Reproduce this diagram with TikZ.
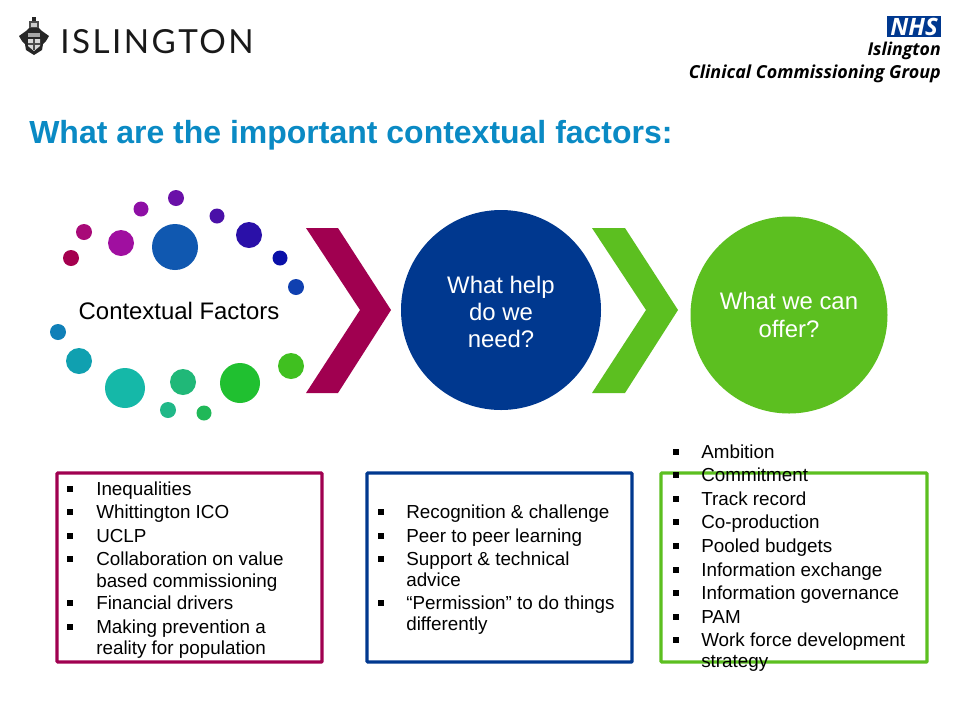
\documentclass[tikz,border=0pt]{standalone}
\usepackage{fontspec}
\setmainfont{Liberation Sans}
\newfontfamily\logofont[LetterSpace=7.5]{Lato}
\newfontfamily\nhsfont{Open Sans}
\usepackage{tikz}

\definecolor{titleblue}{HTML}{0A8AC4}
\definecolor{maroon}{HTML}{A00050}
\definecolor{nhsblue}{HTML}{00388F}
\definecolor{leafgreen}{HTML}{5CBF20}

\tikzset{
	itemtext/.style={anchor=base west,inner sep=0pt,font=\fontsize{13.4}{14}\selectfont},
	bulletmark/.style={fill=black,minimum size=4.4pt,inner sep=0pt},
	listbox/.style={line width=2.2pt,rounded corners=0.5pt,fill=white},
	bigcircle/.style={circle,inner sep=0pt,text=white,align=center,font=\fontsize{17}{19.5}\selectfont}
}

\begin{document}
\begin{tikzpicture}[x=0.25mm,y=-0.25mm]
	\useasboundingbox (0,0) rectangle (960,720);
	\fill[white] (0,0) rectangle (960,720);
	% crest
	\fill[black!85] (30,27) -- (38,27) -- (42,31) -- (49,36) -- (46,41) -- (43,44) -- (42,50) -- (34,55) -- (26,50) -- (25,44) -- (22,41) -- (19,36) -- (26,31) -- cycle;
	\fill[black!85] (32,17) rectangle (36,21);
	\fill[black!70] (29,21) rectangle (39,28);
	\fill[black!20] (31,23) rectangle (37,27);
	\fill[black!15] (28,39) -- (40,39) -- (40,46) -- (34,51) -- (28,46) -- cycle;
	\fill[black!70] (33,39) rectangle (35,50);
	\fill[black!70] (28,43) rectangle (40,45);
	\fill[black!35] (28,33) rectangle (40,37);
	\node[anchor=base west,inner sep=0pt,font=\logofont\fontsize{23.6}{24}\selectfont,text=black!90] (islington) at (60,53) {ISLINGTON};
	% nhs logo
	\node[fill=nhsblue,text=white,minimum width=54*0.25mm,minimum height=21*0.25mm,inner sep=0pt,font=\nhsfont\bfseries\itshape\fontsize{17}{17}\selectfont] (nhs) at (914,26.5) {NHS};
	\node[anchor=base east,inner sep=0pt,font=\nhsfont\bfseries\itshape\fontsize{12.6}{14}\selectfont] (nhsname) at (941,55) {Islington};
	\node[anchor=base east,inner sep=0pt,font=\nhsfont\bfseries\itshape\fontsize{12.75}{14}\selectfont] (nhsgroup) at (941,78) {Clinical Commissioning Group};
	\node[anchor=base west,inner sep=0pt,text=titleblue,font=\bfseries\fontsize{22.75}{28}\selectfont] (title) at (29,143) {What are the important contextual factors:};
	% dots
	\foreach \x/\y/\r/\c in {71/258/8/A5004F,84/232/8/A80A78,121/243/13/A00FA0,141/209/7.5/8E0FA5,176/198/8/6A10A8,175/247/23/1058B0,217/216/7.5/4A10A8,249/235/13/2A10A8,280/258/7.5/0A10A8,296/287/8/1040B0,58/332/8/1080B8,79/361/13/10A0B0,125/388/20/15B8A8,183/382/13/20B878,168/410/8/20B888,204/413/7.5/20B858,240/383/20/20C030,291/366/13/40C020}
	{
		\definecolor{dotcol}{HTML}{\c}
		\fill[dotcol] (\x,\y) circle (\r);
	}
	\node[inner sep=0pt,font=\fontsize{17}{18}\selectfont] (context) at (179,311) {Contextual Factors};
	% chevrons
	\fill[maroon] (306,228) -- (338,228) -- (391,310) -- (338,393) -- (306,393) -- (360,310) -- cycle;
	\fill[leafgreen] (592,228) -- (625,228) -- (678,310) -- (625,393) -- (592,393) -- (646,310) -- cycle;
	\node[bigcircle,fill=nhsblue,minimum size=200*0.25mm] (help) at (501,310) {};
	\node[inner sep=0pt,text=white,align=center,font=\fontsize{17}{19.5}\selectfont] (helptext) at (501,312) {What help\\do we\\need?};
	\node[bigcircle,fill=leafgreen,minimum size=197*0.25mm] (offer) at (789,315) {What we can\\offer?};
	% boxes
	\draw[listbox,draw=maroon] (57,473) rectangle (322,662);
	\draw[listbox,draw=nhsblue] (367,473) rectangle (632,662);
	\draw[listbox,draw=leafgreen] (661,473) rectangle (927,662);
	% left list
	\foreach \y/\txt in {495/Inequalities,518/Whittington ICO,542/UCLP,565/Collaboration on value,609/Financial drivers,633/Making prevention a}
	{
		\node[bulletmark] (la\y) at (70,\y-6) {};
		\node[itemtext] (lb\y) at (96,\y) {\txt};
	}
	\node[itemtext] (lc1) at (96,587) {based commissioning};
	\node[itemtext] (lc2) at (96,654) {reality for population};
	% middle list
	\foreach \y/\txt in {518/Recognition \& challenge,542/Peer to peer learning,565/Support \& technical,609/“Permission” to do things}
	{
		\node[bulletmark] (ma\y) at (381,\y-6) {};
		\node[itemtext] (mb\y) at (406,\y) {\txt};
	}
	\node[itemtext] (mc1) at (406,586) {advice};
	\node[itemtext] (mc2) at (406,630) {differently};
	% right list
	\foreach \y/\txt in {458/Ambition,481/Commitment,505/Track record,528/Co-production,552/Pooled budgets,576/Information exchange,599/Information governance,623/PAM,646/Work force development}
	{
		\node[bulletmark] (ra\y) at (676,\y-6) {};
		\node[itemtext] (rb\y) at (701,\y) {\txt};
	}
	\node[itemtext] (rc1) at (701,667) {strategy};
\end{tikzpicture}
\end{document}
